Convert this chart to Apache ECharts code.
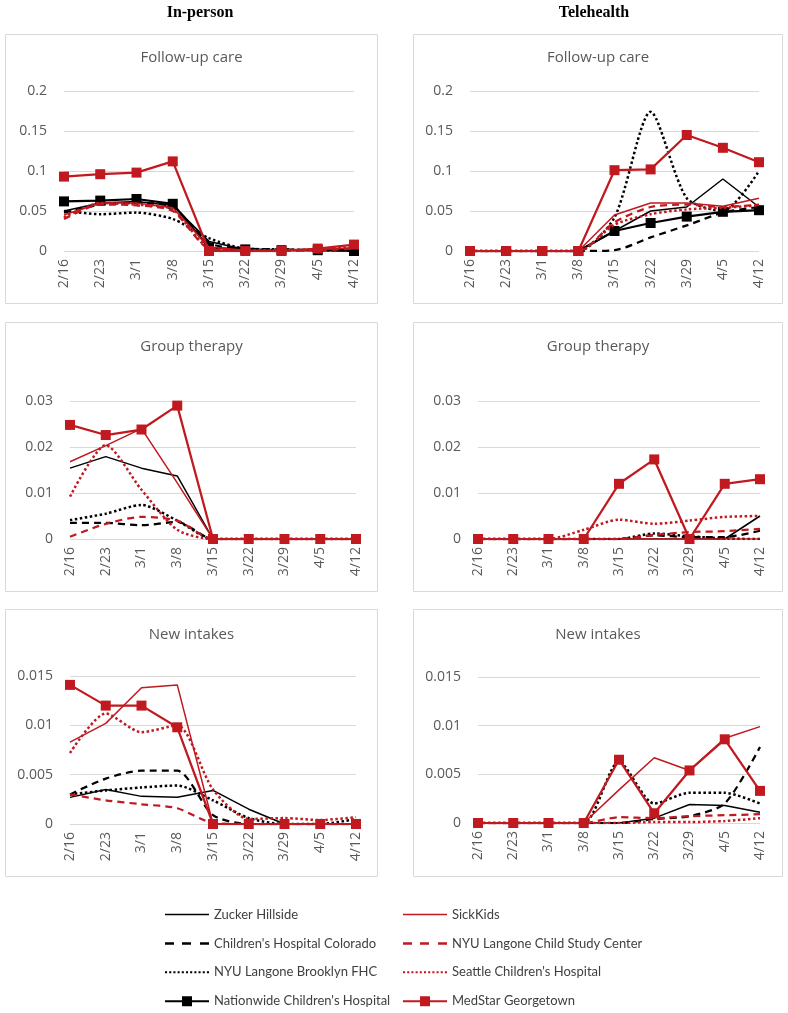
<!DOCTYPE html>
<html>
<head>
<meta charset="utf-8">
<script src="https://cdn.jsdelivr.net/npm/echarts@6/dist/echarts.min.js"></script>
<style>
html,body{margin:0;padding:0;background:#fff;}
#chart{width:788px;height:1013px;}
</style>
</head>
<body>
<div id="chart"></div>
<script>
// ---------------- DATA ----------------
const dates = ['2/16','2/23','3/1','3/8','3/15','3/22','3/29','4/5','4/12'];
const hospitals = ['Zucker Hillside', "Children's Hospital Colorado", 'NYU Langone Brooklyn FHC', "Nationwide Children's Hospital",
                   'SickKids', 'NYU Langone Child Study Center', "Seattle Children's Hospital", 'MedStar Georgetown'];
const columnTitles = ['In-person', 'Telehealth'];
const panelTitles = ['Follow-up care', 'Group therapy', 'New intakes'];
const yMax = [0.2, 0.03, 0.015];
const yStep = [0.05, 0.01, 0.005];

// In-person, follow-up care
const ipFollowZucker     = [0.050, 0.060, 0.062, 0.057, 0.012, 0.002, 0.001, 0.001, 0.002];
const ipFollowColorado   = [0.048, 0.058, 0.060, 0.055, 0.010, 0.003, 0.002, 0.001, 0.001];
const ipFollowBrooklyn   = [0.050, 0.046, 0.048, 0.040, 0.016, 0.003, 0.002, 0.001, 0.001];
const ipFollowNationwide = [0.062, 0.063, 0.065, 0.059, 0.004, 0.002, 0.001, 0.001, 0.000];
const ipFollowSickKids   = [0.045, 0.060, 0.060, 0.054, 0.005, 0.001, 0.001, 0.002, 0.004];
const ipFollowNyuCsc     = [0.040, 0.058, 0.057, 0.050, 0.003, 0.000, 0.000, 0.001, 0.003];
const ipFollowSeattle    = [0.042, 0.060, 0.058, 0.052, 0.004, 0.001, 0.001, 0.002, 0.005];
const ipFollowMedStar    = [0.093, 0.096, 0.098, 0.112, 0.000, 0.000, 0.000, 0.003, 0.008];

// Telehealth, follow-up care
const thFollowZucker     = [0, 0, 0, 0, 0.025, 0.050, 0.055, 0.090, 0.055];
const thFollowColorado   = [0, 0, 0, 0, 0.001, 0.017, 0.032, 0.048, 0.055];
const thFollowBrooklyn   = [0, 0, 0, 0, 0.042, 0.174, 0.066, 0.050, 0.100];
const thFollowNationwide = [0, 0, 0, 0, 0.025, 0.035, 0.043, 0.049, 0.051];
const thFollowSickKids   = [0, 0, 0, 0, 0.045, 0.060, 0.060, 0.056, 0.066];
const thFollowNyuCsc     = [0, 0, 0, 0, 0.036, 0.055, 0.058, 0.055, 0.058];
const thFollowSeattle    = [0, 0, 0, 0, 0.033, 0.046, 0.052, 0.054, 0.057];
const thFollowMedStar    = [0, 0, 0, 0, 0.101, 0.102, 0.145, 0.129, 0.111];

// In-person, group therapy
const ipGroupZucker     = [0.0154, 0.0179, 0.0154, 0.0137, 0, 0, 0, 0, 0];
const ipGroupColorado   = [0.0035, 0.0035, 0.0030, 0.0037, 0, 0, 0, 0, 0];
const ipGroupBrooklyn   = [0.0041, 0.0055, 0.0074, 0.0040, 0, 0, 0, 0, 0];
const ipGroupNationwide = [null, null, null, null, null, null, null, null, null];
const ipGroupSickKids   = [0.0168, 0.0203, 0.0240, 0.0122, 0, 0, 0, 0, 0];
const ipGroupNyuCsc     = [0.0005, 0.0033, 0.0048, 0.0040, 0, 0, 0, 0, 0];
const ipGroupSeattle    = [0.0092, 0.0204, 0.0107, 0.0020, 0, 0, 0, 0, 0];
const ipGroupMedStar    = [0.0248, 0.0226, 0.0238, 0.0290, 0, 0, 0, 0, 0];

// Telehealth, group therapy
const thGroupZucker     = [0, 0, 0, 0, 0, 0, 0, 0, 0.0050];
const thGroupColorado   = [0, 0, 0, 0, 0, 0.0008, 0.0004, 0.0004, 0.0018];
const thGroupBrooklyn   = [0, 0, 0, 0, 0, 0.0012, 0.0006, 0.0001, 0];
const thGroupNationwide = [null, null, null, null, null, null, null, null, null];
const thGroupSickKids   = [0, 0, 0, 0, 0, 0, 0, 0, 0];
const thGroupNyuCsc     = [0, 0, 0, 0, 0, 0.0009, 0.0015, 0.0017, 0.0022];
const thGroupSeattle    = [0, 0, 0, 0.0020, 0.0042, 0.0033, 0.0040, 0.0048, 0.0050];
const thGroupMedStar    = [0, 0, 0, 0, 0.0120, 0.0173, 0, 0.0120, 0.0130];

// In-person, new intakes
const ipNewZucker     = [0.0027, 0.0035, 0.0028, 0.0027, 0.0034, 0.0015, 0, 0, 0];
const ipNewColorado   = [0.0030, 0.0046, 0.0054, 0.0054, 0.0009, 0, 0, 0, 0];
const ipNewBrooklyn   = [0.0030, 0.0034, 0.0037, 0.0039, 0.0024, 0.0006, 0, 0, 0.0005];
const ipNewNationwide = [null, null, null, null, null, null, null, null, null];
const ipNewSickKids   = [0.0083, 0.0102, 0.0138, 0.0141, 0, 0, 0, 0, 0];
const ipNewNyuCsc     = [0.0030, 0.0024, 0.0020, 0.0016, 0.0001, 0, 0, 0, 0];
const ipNewSeattle    = [0.0072, 0.0112, 0.0093, 0.0100, 0.0035, 0.0005, 0.0006, 0.0004, 0.0007];
const ipNewMedStar    = [0.0141, 0.0120, 0.0120, 0.0098, 0, 0, 0, 0, 0];

// Telehealth, new intakes
const thNewZucker     = [0, 0, 0, 0, 0, 0.0005, 0.0019, 0.0018, 0.0011];
const thNewColorado   = [0, 0, 0, 0, 0, 0.0004, 0.0007, 0.0020, 0.0078];
const thNewBrooklyn   = [0, 0, 0, 0, 0.0063, 0.0020, 0.0031, 0.0031, 0.0020];
const thNewNationwide = [null, null, null, null, null, null, null, null, null];
const thNewSickKids   = [0, 0, 0, 0, 0.0034, 0.0067, 0.0054, 0.0087, 0.0099];
const thNewNyuCsc     = [0, 0, 0, 0, 0.0006, 0.0005, 0.0007, 0.0008, 0.0009];
const thNewSeattle    = [0, 0, 0, 0, 0, 0.0001, 0.0001, 0.0002, 0.0005];
const thNewMedStar    = [0, 0, 0, 0, 0.0065, 0.0010, 0.0054, 0.0086, 0.0033];

// panel order: row-major (row = measure, col = modality)
const panelSeries = [
  [ipFollowZucker, ipFollowColorado, ipFollowBrooklyn, ipFollowNationwide, ipFollowSickKids, ipFollowNyuCsc, ipFollowSeattle, ipFollowMedStar],
  [thFollowZucker, thFollowColorado, thFollowBrooklyn, thFollowNationwide, thFollowSickKids, thFollowNyuCsc, thFollowSeattle, thFollowMedStar],
  [ipGroupZucker, ipGroupColorado, ipGroupBrooklyn, ipGroupNationwide, ipGroupSickKids, ipGroupNyuCsc, ipGroupSeattle, ipGroupMedStar],
  [thGroupZucker, thGroupColorado, thGroupBrooklyn, thGroupNationwide, thGroupSickKids, thGroupNyuCsc, thGroupSeattle, thGroupMedStar],
  [ipNewZucker, ipNewColorado, ipNewBrooklyn, ipNewNationwide, ipNewSickKids, ipNewNyuCsc, ipNewSeattle, ipNewMedStar],
  [thNewZucker, thNewColorado, thNewBrooklyn, thNewNationwide, thNewSickKids, thNewNyuCsc, thNewSeattle, thNewMedStar]
];

// ---------------- STYLE / LAYOUT ----------------
const BLACK = '#000000';
const RED = '#C0191F';
const FONT = 'Open Sans';
const TXT = '#595959';
const styles = [
  {color: BLACK, dash: 'solid', width: 1.5, marker: false, smooth: false},
  {color: BLACK, dash: [7, 5],  width: 2.25, marker: false, smooth: 0.25},
  {color: BLACK, dash: [2.5, 2.5], width: 2.5, marker: false, smooth: 0.25},
  {color: BLACK, dash: 'solid', width: 2.25, marker: true, smooth: false},
  {color: RED,   dash: 'solid', width: 1.5, marker: false, smooth: false},
  {color: RED,   dash: [7, 5],  width: 2.25, marker: false, smooth: 0.25},
  {color: RED,   dash: [2.5, 2.5], width: 2.5, marker: false, smooth: 0.25},
  {color: RED,   dash: 'solid', width: 2.25, marker: true, smooth: false}
];

const boxX = [5.5, 413.5], boxW = [372, 369];
const boxY = [34.5, 322.5, 609.5], boxH = [269, 269, 267];
const grids = [
  {left: 64,  top: 91,  width: 290, height: 160},
  {left: 470, top: 91,  width: 289, height: 160},
  {left: 70,  top: 401, width: 286, height: 138},
  {left: 478, top: 401, width: 282, height: 138},
  {left: 70,  top: 676, width: 286, height: 148},
  {left: 478, top: 677, width: 282, height: 146}
];
const titleY = [58, 347, 635];

const graphics = [];
for (let r = 0; r < 3; r++) {
  for (let c = 0; c < 2; c++) {
    graphics.push({type: 'rect', z: 0, silent: true,
      shape: {x: boxX[c], y: boxY[r], width: boxW[c], height: boxH[r]},
      style: {fill: 'none', stroke: '#D9D9D9', lineWidth: 1}});
    graphics.push({type: 'text', z: 5, silent: true, x: boxX[c] + boxW[c] / 2, y: titleY[r],
      style: {text: panelTitles[r], fill: TXT, font: '15px "' + FONT + '"', textAlign: 'center', textVerticalAlign: 'middle'}});
  }
}
[200, 594].forEach((cx, i) => {
  graphics.push({type: 'text', z: 5, silent: true, x: cx, y: 13,
    style: {text: columnTitles[i], fill: '#000', font: 'bold 16px "Liberation Serif"', textAlign: 'center', textVerticalAlign: 'middle'}});
});

const xAxes = [], yAxes = [], series = [];
grids.forEach((g, p) => {
  const row = Math.floor(p / 2);
  xAxes.push({type: 'category', gridIndex: p, data: dates, boundaryGap: false,
    axisLine: {show: false}, axisTick: {show: false}, splitLine: {show: false},
    axisLabel: {rotate: 90, color: TXT, fontSize: 14, fontFamily: FONT, margin: 8, interval: 0}});
  yAxes.push({type: 'value', gridIndex: p, min: 0, max: yMax[row], interval: yStep[row],
    axisLine: {show: false}, axisTick: {show: false},
    splitLine: {lineStyle: {color: '#D9D9D9', width: 1}},
    axisLabel: {color: TXT, fontSize: 14, fontFamily: FONT, margin: 17}});
  panelSeries[p].forEach((vals, h) => {
    const s = styles[h];
    series.push({
      type: 'line', name: hospitals[h], xAxisIndex: p, yAxisIndex: p, data: vals,
      smooth: s.smooth, symbol: s.marker ? 'rect' : 'none', symbolSize: 10, showAllSymbol: true,
      itemStyle: {color: s.color},
      lineStyle: {color: s.color, width: s.width, type: s.dash, cap: 'butt'},
      emphasis: {disabled: true}, z: 2 + h
    });
  });
});

// legend icons (geometry only)
function dotted(w, d, t) {
  let p = '';
  for (let x = 0; x + d <= w + 0.01; x += 2 * d) p += 'M' + x + ',0h' + d + 'v' + t + 'h-' + d + 'Z';
  return 'path://' + p;
}
const icons = [
  'path://M0,0H44V1.5H0Z',
  'path://M0,0H9V2.5H0Z M17,0H26V2.5H17Z M35,0H44V2.5H35Z',
  dotted(44, 2, 2),
  'path://M0,4H44V6H0Z M17,0H27V10H17Z'
];
function legendFor(idx, left) {
  return {
    orient: 'vertical', left: left, top: 908, padding: 0, itemWidth: 44, itemHeight: 10, itemGap: 15.9,
    selectedMode: false, symbolKeepAspect: true,
    itemStyle: {borderWidth: 0},
    textStyle: {color: '#404040', fontSize: 13, fontFamily: 'Lato'},
    data: idx.map((h, k) => ({name: hospitals[h], icon: icons[k]}))
  };
}

const chart = echarts.init(document.getElementById('chart'), null, {renderer: 'canvas'});
chart.setOption({
  animation: false,
  backgroundColor: '#fff',
  grid: grids,
  xAxis: xAxes,
  yAxis: yAxes,
  legend: [legendFor([0, 1, 2, 3], 165), legendFor([4, 5, 6, 7], 403)],
  graphic: graphics,
  series: series
});
</script>
</body>
</html>
